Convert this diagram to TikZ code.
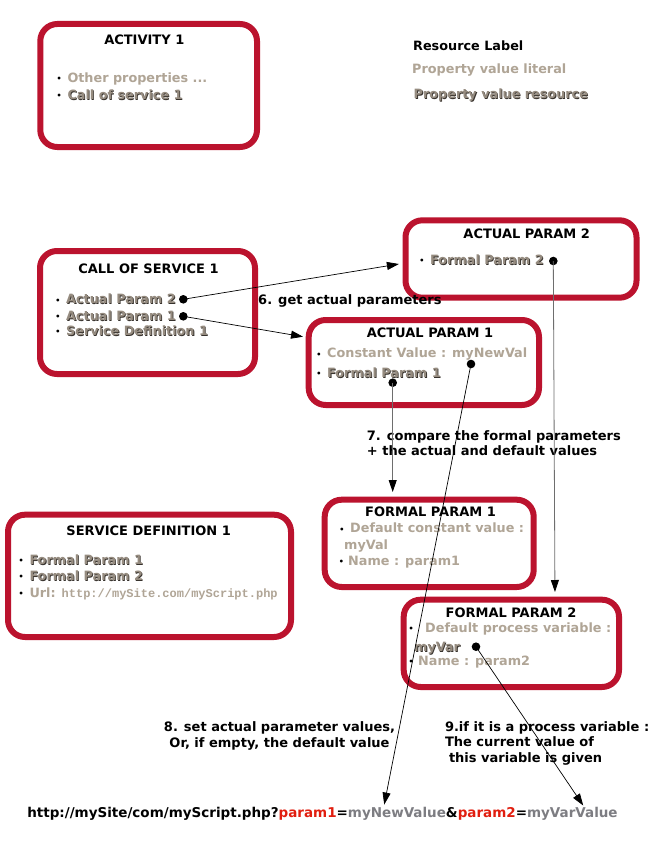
\documentclass[tikz,border=0pt]{standalone}
\usepackage{fontspec}
\setmainfont{DejaVu Sans}
\setmonofont{Liberation Mono}
\usetikzlibrary{arrows.meta,calc}
\definecolor{boxred}{RGB}{187,19,46}
\definecolor{lit}{RGB}{176,165,150}
\definecolor{resfill}{RGB}{150,140,128}
\definecolor{resshadow}{RGB}{55,50,45}
\definecolor{urlred}{RGB}{225,30,15}
\definecolor{urlgray}{RGB}{125,125,130}
\definecolor{linegray}{RGB}{110,110,110}
\newcommand\res[1]{\rlap{\kern0.8pt\raisebox{-0.8pt}{\color{resshadow}#1}}{\color{resfill}#1}}
\newcommand\bulw[1]{\makebox[#1][l]{\raisebox{0.8pt}{\fontsize{8}{8}\selectfont\color{black}•}}}
\newcommand\bul{\bulw{10.8pt}}
\tikzset{
  box/.style={draw=boxred, line width=6pt, rounded corners=17pt, fill=white, inner sep=0pt},
  ttl/.style={font=\fontsize{13}{15}\selectfont\bfseries, anchor=base, inner sep=0pt},
  itm/.style={font=\fontsize{12.8}{14}\selectfont\bfseries, anchor=base west, inner sep=0pt},
  legend/.style={font=\fontsize{12.8}{15}\selectfont\bfseries, anchor=base west, inner sep=0pt},
  note/.style={font=\fontsize{13}{15.5}\selectfont\bfseries, inner sep=0pt},
  urlp/.style={font=\fontsize{13.5}{15}\selectfont\bfseries, inner sep=0pt, outer sep=0pt, anchor=base west},
  dot/.style={circle, fill=black, minimum size=8.6pt, inner sep=0pt},
  con/.style={draw=black, line width=0.7pt, -{Triangle[length=12pt,width=8pt]}},
  vcon/.style={draw=linegray, line width=0.8pt, -{Triangle[length=12pt,width=8pt,color=black]}}
}
\begin{document}
\begin{tikzpicture}[x=1pt,y=-1pt]
\useasboundingbox[fill=white] (0,0) rectangle (650,851);

% boxes
\node[box, minimum width=216.7pt, minimum height=123pt] (act1) at (148.65,85.5) {};
\node[box, minimum width=215pt, minimum height=123pt] (cs1) at (147.5,312.5) {};
\node[box, minimum width=231pt, minimum height=77.4pt] (ap2) at (521,259) {};
\node[box, minimum width=230.3pt, minimum height=85pt] (ap1) at (423.85,362.5) {};
\node[box, minimum width=209pt, minimum height=87.3pt] (fp1) at (429.2,543.35) {};
\node[box, minimum width=283pt, minimum height=122.3pt] (sd1) at (149.5,575.85) {};
\node[box, minimum width=215.3pt, minimum height=87.3pt] (fp2) at (511.35,643.35) {};

% titles
\node[ttl] (t-act1) at (144.3,44.7) {ACTIVITY 1};
\node[ttl] (t-cs1) at (148.5,273.7) {CALL OF SERVICE 1};
\node[ttl] (t-ap2) at (526.7,238.7) {ACTUAL PARAM 2};
\node[ttl] (t-ap1) at (430,337.7) {ACTUAL PARAM 1};
\node[ttl] (t-fp1) at (430.5,516.7) {FORMAL PARAM 1};
\node[ttl] (t-sd1) at (148.7,535.7) {SERVICE DEFINITION 1};
\node[ttl] (t-fp2) at (511,617.7) {FORMAL PARAM 2};

% items
\node[itm] (i-act1a) at (56.5,82.2) {\bul\textcolor{lit}{Other properties ...}};
\node[itm] (i-act1b) at (56.5,99.5) {\bul\res{Call of service 1}};

\node[itm] (i-cs1a) at (55.2,303.8) {\bul\res{Actual Param 2}};
\node[itm] (i-cs1b) at (55.2,320.5) {\bul\res{Actual Param 1}};
\node[itm] (i-cs1c) at (55.2,335.5) {\bul\res{Service Definition 1}};

\node[itm] (i-ap2a) at (419.2,264.5) {\bul\res{Formal Param 2}};

\node[itm] (i-ap1a) at (316.2,357.8) {\bul\textcolor{lit}{Constant Value : myNewVal}};
\node[itm] (i-ap1b) at (316.2,377.5) {\bul\res{Formal Param 1}};

\node[itm] (i-fp1a) at (339.2,532.8) {\bul\textcolor{lit}{Default constant value :}};
\node[itm] (i-fp1b) at (344,549.5) {\textcolor{lit}{myVal}};
\node[itm] (i-fp1c) at (338.7,565.2) {\bulw{9.3pt}\textcolor{lit}{Name : param1}};

\node[itm] (i-sd1a) at (18.5,564.5) {\bul\res{Formal Param 1}};
\node[itm] (i-sd1b) at (18.5,580.5) {\bul\res{Formal Param 2}};
\node[itm] (i-sd1c) at (18.5,597.5) {\bul\textcolor{lit}{Url: {\fontsize{12}{14}\selectfont\ttfamily\bfseries http://mySite.com/myScript.php}}};

\node[itm] (i-fp2a) at (408.4,632.5) {\bulw{16.6pt}\textcolor{lit}{Default process variable :}};
\node[itm] (i-fp2b) at (414,651.2) {\res{myVar}};
\node[itm] (i-fp2c) at (408.4,665.5) {\bulw{9.6pt}\textcolor{lit}{Name : param2}};

% legend
\node[legend] (lg1) at (413,50.5) {Resource Label};
\node[legend, text=lit] (lg2) at (412,73.5) {Property value literal};
\node[legend] (lg3) at (413.5,98.5) {\res{Property value resource}};

% notes (base anchor = baseline of last line)
\node[note, anchor=base west] (n6) at (258,304.6) {6. get actual parameters};
\node[note, anchor=base west, align=left] (n7) at (366.7,455.6) {7. compare the formal parameters\\+ the actual and default values};
\node[note, anchor=base, align=center] (n8) at (279.5,747.3) {8. set actual parameter values,\\Or, if empty, the default value};
\node[note, anchor=base west, align=left] (n9) at (444.8,762.3) {9.if it is a process variable :\\The current value of\\\hspace*{4pt}this variable is given};

% url line
\node[urlp] (u1) at (27.3,817.8) {http://mySite/com/myScript.php?};
\node[urlp, text=urlred] (u2) at (u1.base east) {param1};
\node[urlp] (u3) at (u2.base east) {=};
\node[urlp, text=urlgray] (nv) at (u3.base east) {myNewValue};
\node[urlp] (u5) at (nv.base east) {\&};
\node[urlp, text=urlred] (u6) at (u5.base east) {param2};
\node[urlp] (u7) at (u6.base east) {=};
\node[urlp, text=urlgray] (vv) at (u7.base east) {myVarValue};

% dots
\node[dot] (dA) at (183.3,299.3) {};
\node[dot] (dB) at (183.3,316.3) {};
\node[dot] (dF2) at (553.3,261) {};
\node[dot] (dNV) at (471,364) {};
\node[dot] (dF1) at (392.7,382.7) {};
\node[dot] (dV) at (476,646.7) {};

% connectors
\draw[con] (dA.center) -- ($(ap2.west)+(-3.6,5)$);
\draw[con] (dB.center) -- ($(ap1.west)+(-2.7,-25.8)$);
\draw[vcon] (dF1.center) -- ($(dF1 |- fp1.north)+(0,-4.7)$);
\draw[vcon] (dF2.center) -- ($(fp2.north)+(43.6,-4.7)$);
\draw[con] (dNV.center) -- ($($(nv.north west)!0.37!(nv.north east)$)+(0,-3)$);
\draw[con] (dV.center) -- ($($(vv.north west)!0.62!(vv.north east)$)+(0,-2)$);
\end{tikzpicture}
\end{document}
